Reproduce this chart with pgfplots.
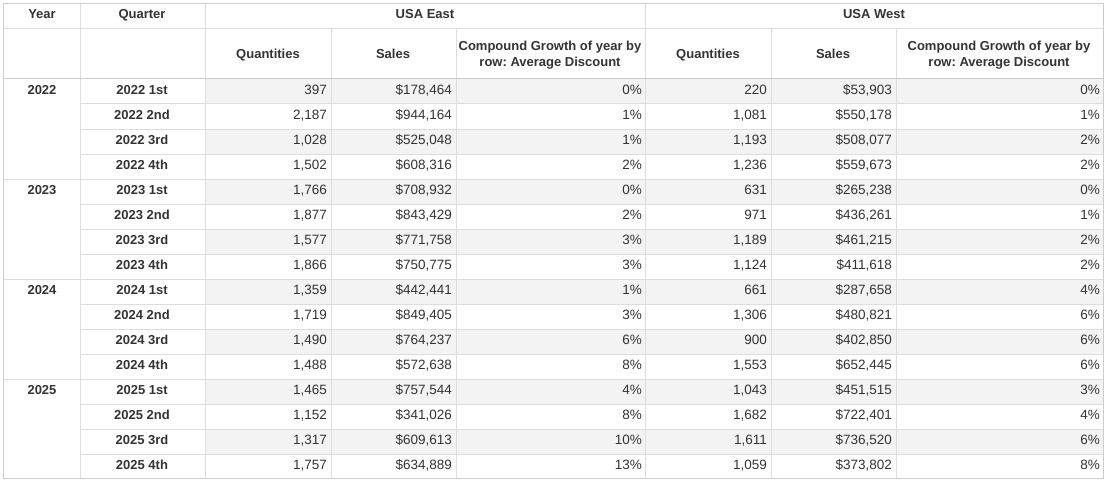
\documentclass[border=0pt]{standalone}
\usepackage{pgfplots}
\usepackage{pgfplotstable}
\pgfplotsset{compat=1.18}
\usepackage{fontspec}
\setmainfont{Liberation Sans}
\frenchspacing
\definecolor{txt}{HTML}{333333}
\definecolor{gridc}{HTML}{DDDDDD}
\definecolor{headc}{HTML}{C8C8C8}
\definecolor{rowshade}{HTML}{F3F3F3}
\newcommand{\datafont}{\fontsize{13.5bp}{16bp}\selectfont}
\newcommand{\headfont}{\fontsize{13bp}{16bp}\selectfont\bfseries}

\pgfplotstableread[col sep=comma]{
r,ql,eq,es,ep,wq,ws,wp
0,2022 1st,397,178464,0,220,53903,0
1,2022 2nd,2187,944164,1,1081,550178,1
2,2022 3rd,1028,525048,1,1193,508077,2
3,2022 4th,1502,608316,2,1236,559673,2
4,2023 1st,1766,708932,0,631,265238,0
5,2023 2nd,1877,843429,2,971,436261,1
6,2023 3rd,1577,771758,3,1189,461215,2
7,2023 4th,1866,750775,3,1124,411618,2
8,2024 1st,1359,442441,1,661,287658,4
9,2024 2nd,1719,849405,3,1306,480821,6
10,2024 3rd,1490,764237,6,900,402850,6
11,2024 4th,1488,572638,8,1553,652445,6
12,2025 1st,1465,757544,4,1043,451515,3
13,2025 2nd,1152,341026,8,1682,722401,4
14,2025 3rd,1317,609613,10,1611,736520,6
15,2025 4th,1757,634889,13,1059,373802,8
}\tbl

\pgfplotstableread[col sep=comma]{
r,yr
0,2022
4,2023
8,2024
12,2025
}\yrs

\pgfplotsset{
  cellnum/.style={draw=none, mark=none, forget plot,
    nodes near coords align={anchor=base east},
    every node near coord/.append style={anchor=base east, inner sep=0pt, font=\datafont, text=txt},
    /pgf/number format/fixed, /pgf/number format/precision=0,
    /pgf/number format/1000 sep={,}, /pgf/number format/assume math mode=true},
  celltxt/.style={draw=none, mark=none, forget plot,
    point meta=explicit symbolic,
    nodes near coords align={anchor=base},
    every node near coord/.append style={anchor=base, inner sep=0pt, font=\headfont, text=txt}},
}

\begin{document}
\begin{tikzpicture}
\begin{axis}[
  scale only axis, width=1107bp, height=481bp,
  xmin=0, xmax=1107, ymin=0, ymax=481, y dir=reverse,
  hide axis, clip=false,
]
% background
\fill[white] (axis cs:0,0) rectangle (axis cs:1107,481);
% shaded odd rows
\pgfplotsinvokeforeach{0,2,4,6,8,10,12,14}{
  \fill[rowshade] (axis cs:205,79+25*#1) rectangle (axis cs:1103,104+25*#1);
}
% horizontal row lines
\pgfplotsinvokeforeach{1,2,3,5,6,7,9,10,11,13,14,15}{
  \draw[gridc, line width=1bp] (axis cs:80,79+25*#1) -- (axis cs:1103,79+25*#1);
}
\pgfplotsinvokeforeach{4,8,12}{
  \draw[gridc, line width=1bp] (axis cs:3,79+25*#1) -- (axis cs:1103,79+25*#1);
}
\draw[gridc, line width=1bp] (axis cs:3,29) -- (axis cs:1103,29);
% vertical lines
\pgfplotsinvokeforeach{80,205,645}{
  \draw[gridc, line width=1bp] (axis cs:#1,4) -- (axis cs:#1,478);
}
\pgfplotsinvokeforeach{331,456,771,896}{
  \draw[gridc, line width=1bp] (axis cs:#1,29) -- (axis cs:#1,478);
}
\draw[headc, line width=1bp] (axis cs:3,79) -- (axis cs:1103,79);
% outer border
\draw[headc!80!gridc, line width=1bp] (axis cs:3,4) rectangle (axis cs:1103,478);

% headers
\node[anchor=base, inner sep=0pt, font=\headfont, text=txt] at (axis cs:42,19) {Year};
\node[anchor=base, inner sep=0pt, font=\headfont, text=txt] at (axis cs:142,19) {Quarter};
\node[anchor=base, inner sep=0pt, font=\headfont, text=txt] at (axis cs:425,19) {USA East};
\node[anchor=base, inner sep=0pt, font=\headfont, text=txt] at (axis cs:874,19) {USA West};
\node[anchor=base, inner sep=0pt, font=\headfont, text=txt] at (axis cs:268,59) {Quantities};
\node[anchor=base, inner sep=0pt, font=\headfont, text=txt] at (axis cs:393,59) {Sales};
\node[anchor=base, inner sep=0pt, font=\headfont, text=txt] at (axis cs:550,51) {Compound Growth of year by};
\node[anchor=base, inner sep=0pt, font=\headfont, text=txt] at (axis cs:550,67) {row: Average Discount};
\node[anchor=base, inner sep=0pt, font=\headfont, text=txt] at (axis cs:708,59) {Quantities};
\node[anchor=base, inner sep=0pt, font=\headfont, text=txt] at (axis cs:833,59) {Sales};
\node[anchor=base, inner sep=0pt, font=\headfont, text=txt] at (axis cs:999,51) {Compound Growth of year by};
\node[anchor=base, inner sep=0pt, font=\headfont, text=txt] at (axis cs:999,67) {row: Average Discount};

% year and quarter labels
\addplot[celltxt, nodes near coords] table[x expr=42, y expr=94+25*\thisrow{r}, meta=yr] {\yrs};
\addplot[celltxt, nodes near coords] table[x expr=142, y expr=94+25*\thisrow{r}, meta=ql] {\tbl};

% numbers
\addplot[cellnum, point meta=\thisrow{eq}, nodes near coords={\pgfmathprintnumber{\pgfplotspointmeta}}]
  table[x expr=327, y expr=94+25*\thisrow{r}] {\tbl};
\addplot[cellnum, point meta=\thisrow{es}, nodes near coords={\$\pgfmathprintnumber{\pgfplotspointmeta}}]
  table[x expr=452, y expr=94+25*\thisrow{r}] {\tbl};
\addplot[cellnum, point meta=\thisrow{ep}, nodes near coords={\pgfmathprintnumber{\pgfplotspointmeta}\%}]
  table[x expr=642, y expr=94+25*\thisrow{r}] {\tbl};
\addplot[cellnum, point meta=\thisrow{wq}, nodes near coords={\pgfmathprintnumber{\pgfplotspointmeta}}]
  table[x expr=767, y expr=94+25*\thisrow{r}] {\tbl};
\addplot[cellnum, point meta=\thisrow{ws}, nodes near coords={\$\pgfmathprintnumber{\pgfplotspointmeta}}]
  table[x expr=892, y expr=94+25*\thisrow{r}] {\tbl};
\addplot[cellnum, point meta=\thisrow{wp}, nodes near coords={\pgfmathprintnumber{\pgfplotspointmeta}\%}]
  table[x expr=1100, y expr=94+25*\thisrow{r}] {\tbl};
\end{axis}
\end{tikzpicture}
\end{document}
